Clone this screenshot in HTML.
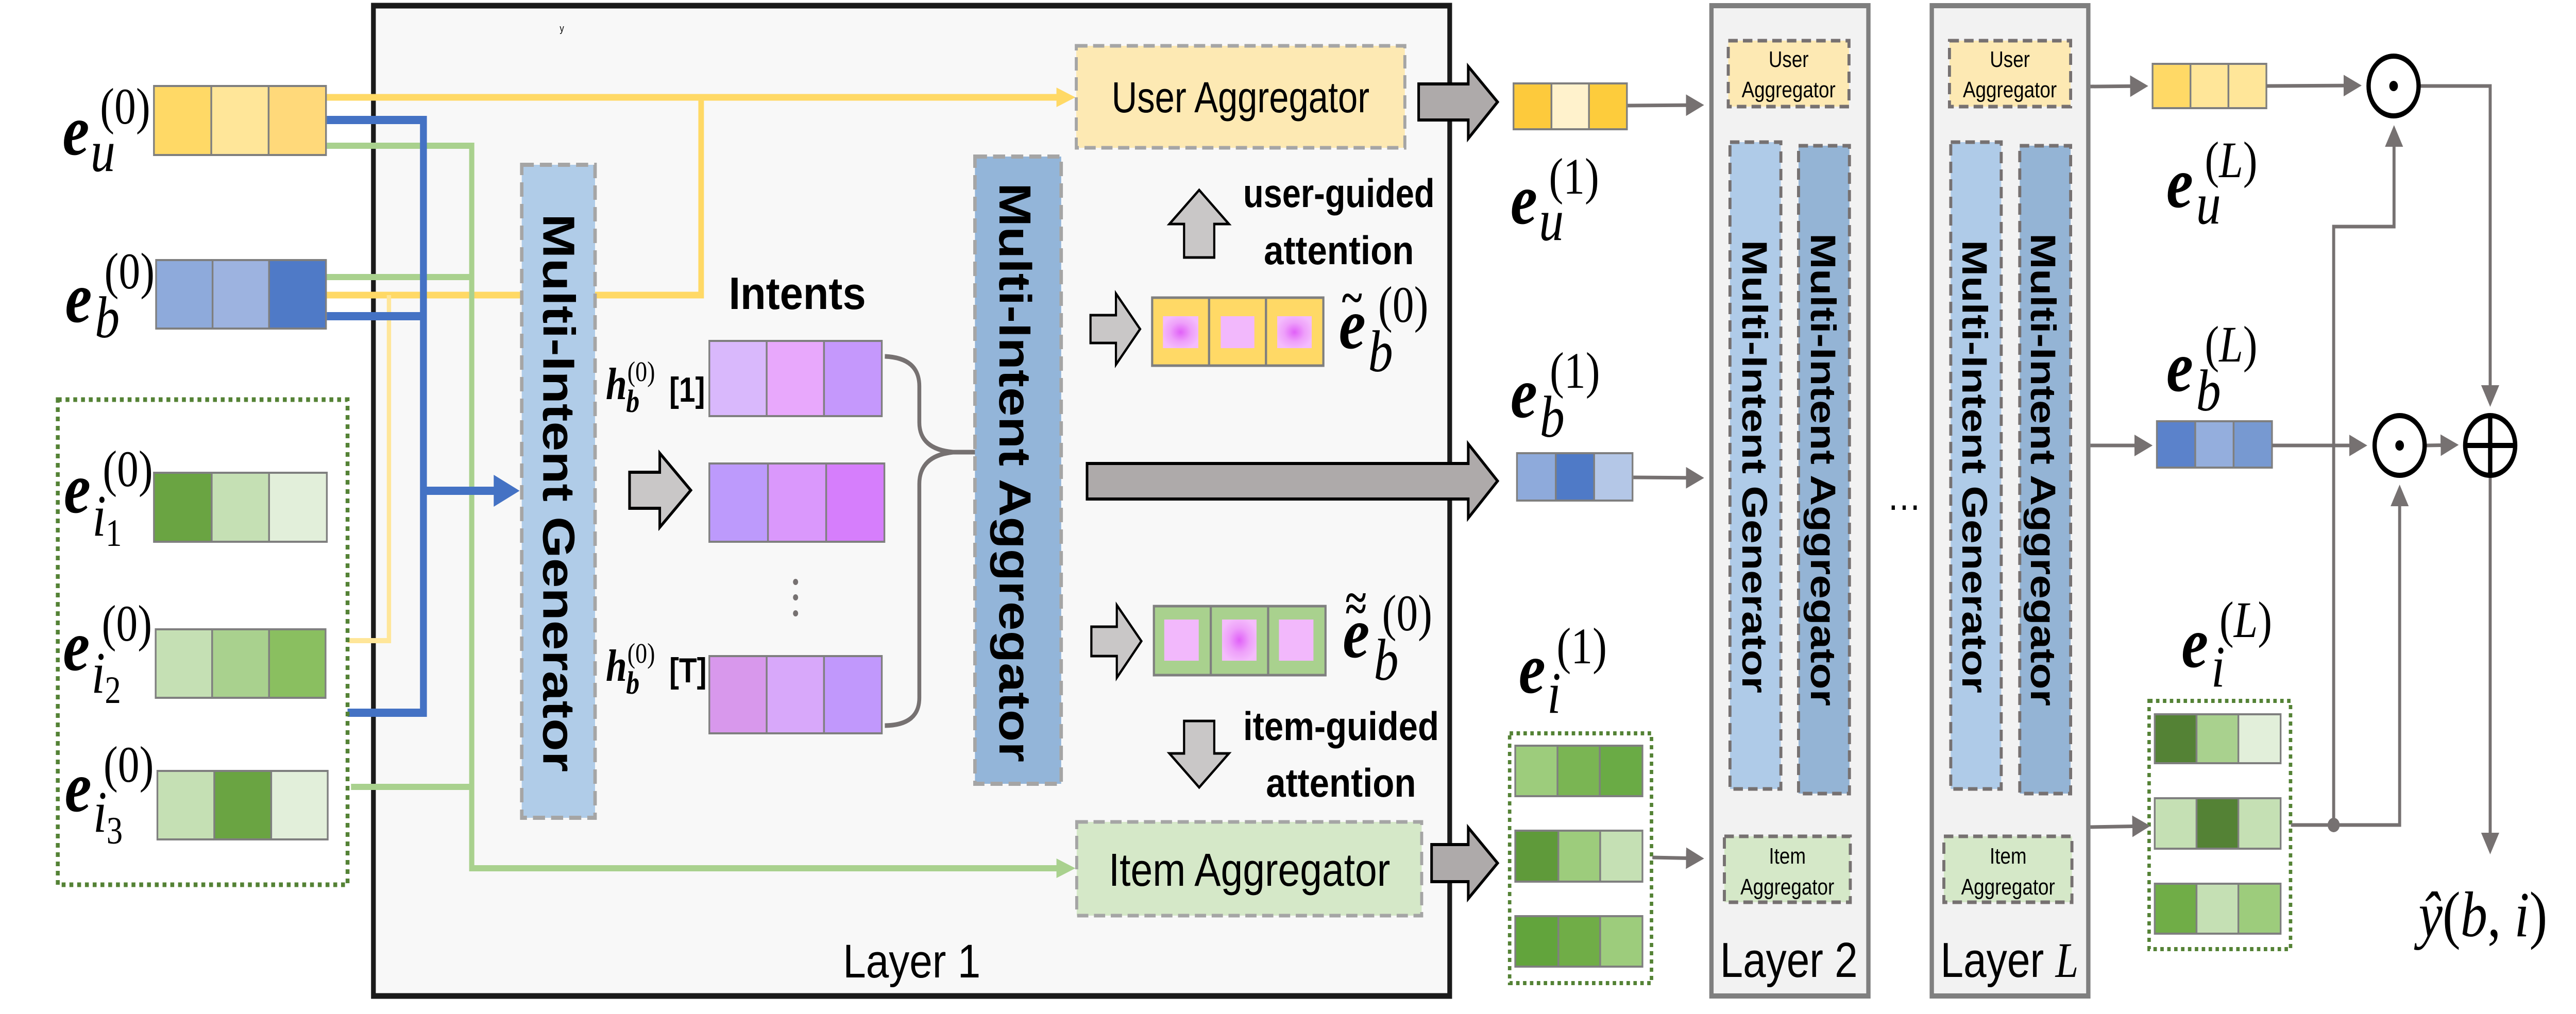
<!DOCTYPE html>
<html><head><meta charset="utf-8"><style>html,body{margin:0;padding:0;background:#fff;overflow:hidden;width:5974px;height:1969px}svg{display:block;position:fixed;left:0;top:0;width:100vw;height:100vh}</style></head><body>
<svg xmlns="http://www.w3.org/2000/svg" viewBox="0 0 5974 1969" preserveAspectRatio="none">
<defs>
<radialGradient id="mg" cx="50%" cy="50%" r="55%"><stop offset="0" stop-color="#e060f8"/><stop offset="0.55" stop-color="#eea0fa"/><stop offset="1" stop-color="#f4bcfc"/></radialGradient>
<marker id="ag" markerWidth="6" markerHeight="6" refX="5" refY="3" orient="auto" markerUnits="strokeWidth"><path d="M0,0 L6,3 L0,6 z" fill="#767171"/></marker>
</defs>
<rect width="5974" height="1969" fill="#fff"/>
<!-- Layer 1 -->
<rect x="866" y="11" width="2496" height="1923" fill="#f8f8f8" stroke="#1a1a1a" stroke-width="11"/>
<text x="1298" y="62" font-family="Liberation Sans" font-size="20">y</text>
<!-- Layer 2 and L -->
<rect x="3969" y="11" width="364" height="1923" fill="#f2f2f2" stroke="#7f7f7f" stroke-width="10"/>
<rect x="4480" y="11" width="363" height="1923" fill="#f2f2f2" stroke="#7f7f7f" stroke-width="10"/>

<!-- input lines -->
<g fill="none" stroke-linejoin="miter">
<path d="M758,189 L2470,189" stroke="#ffd966" stroke-width="13"/>
<path d="M758,573 L1626,573 L1626,189" stroke="#ffd966" stroke-width="13"/>
<path d="M806,1244 L902,1244 L902,573" stroke="#ffe699" stroke-width="10"/>
<path d="M758,283 L1094,283 L1094,1686 L2470,1686" stroke="#a9d18e" stroke-width="12"/>
<path d="M758,538 L1094,538" stroke="#a9d18e" stroke-width="12"/>
<path d="M814,1528 L1094,1528" stroke="#a9d18e" stroke-width="12"/>
<path d="M758,233 L982,233 L982,1384 L806,1384" stroke="#4472c4" stroke-width="16"/>
<path d="M758,614 L982,614" stroke="#4472c4" stroke-width="16"/>
<path d="M982,953 L1150,953" stroke="#4472c4" stroke-width="16"/>
</g>
<path d="M1145,922 L1205,953 L1145,984 z" fill="#4472c4"/>
<path d="M2450,170 L2494,189 L2450,208 z" fill="#ffd966"/>
<path d="M2450,1667 L2494,1686 L2450,1705 z" fill="#a9d18e"/>

<!-- input vectors -->
<g stroke="#7f7f7f" stroke-width="4">
<rect x="357" y="167" width="133" height="134" fill="#ffd966"/><rect x="490" y="167" width="133" height="134" fill="#ffe699"/><rect x="623" y="167" width="133" height="134" fill="#ffd97a"/>
<rect x="362" y="505" width="131" height="133" fill="#8eaadb"/><rect x="493" y="505" width="131" height="133" fill="#9db3e0"/><rect x="624" y="505" width="132" height="133" fill="#4f7ac7"/>
<rect x="357" y="918" width="134" height="134" fill="#6aa442"/><rect x="491" y="918" width="133" height="134" fill="#c5e0b4"/><rect x="624" y="918" width="134" height="134" fill="#e2efda"/>
<rect x="361" y="1222" width="131" height="133" fill="#c5e0b4"/><rect x="492" y="1222" width="132" height="133" fill="#a9d18e"/><rect x="624" y="1222" width="131" height="133" fill="#8abf60"/>
<rect x="365" y="1497" width="132" height="133" fill="#c5e0b4"/><rect x="497" y="1497" width="132" height="133" fill="#6aa442"/><rect x="629" y="1497" width="131" height="133" fill="#e2efda"/>
</g>
<rect x="134" y="776" width="672" height="942" fill="none" stroke="#548235" stroke-width="9" stroke-dasharray="9,9"/>

<!-- math labels inputs -->
<g font-family="Liberation Serif, serif">
<text x="145" y="300" font-size="140" font-weight="bold" font-style="italic">e</text><text x="210" y="332" font-size="115" font-style="italic">u</text><text x="232" y="240" font-size="100">(0)</text>
<text x="151" y="625" font-size="140" font-weight="bold" font-style="italic">e</text><text x="220" y="655" font-size="115" font-style="italic">b</text><text x="242" y="560" font-size="100">(0)</text>
<text x="148" y="995" font-size="140" font-weight="bold" font-style="italic">e</text><text x="214" y="1040" font-size="115" font-style="italic">i</text><text x="245" y="1060" font-size="75">1</text><text x="238" y="944" font-size="100">(0)</text>
<text x="146" y="1301" font-size="140" font-weight="bold" font-style="italic">e</text><text x="212" y="1345" font-size="115" font-style="italic">i</text><text x="243" y="1365" font-size="75">2</text><text x="236" y="1244" font-size="100">(0)</text>
<text x="150" y="1575" font-size="140" font-weight="bold" font-style="italic">e</text><text x="216" y="1615" font-size="115" font-style="italic">i</text><text x="247" y="1638" font-size="75">3</text><text x="240" y="1518" font-size="100">(0)</text>
</g>

<!-- MIG -->
<rect x="1210" y="320" width="170" height="1268" fill="#b0cce8" stroke="#a5a5a5" stroke-width="8" stroke-dasharray="28,14"/>
<text transform="translate(1260,415) rotate(90)" font-family="Liberation Sans, sans-serif" font-weight="bold" font-size="104" textLength="1084" lengthAdjust="spacingAndGlyphs">Multi-Intent Generator</text>

<!-- arrow -->
<path d="M1460,917 L1530,917 L1530,880 L1602,952 L1530,1024 L1530,987 L1460,987 z" fill="#c9c7c7" stroke="#000" stroke-width="6"/>

<text x="1690" y="600" font-family="Liberation Sans, sans-serif" font-weight="bold" font-size="88" textLength="318" lengthAdjust="spacingAndGlyphs">Intents</text>
<g font-family="Liberation Serif, serif">
<text x="1405" y="775" font-size="88" font-weight="bold" font-style="italic">h</text><text x="1452" y="800" font-size="62" font-style="italic" font-weight="bold">b</text><text x="1455" y="740" font-size="55">(0)</text>
<text x="1405" y="1322" font-size="88" font-weight="bold" font-style="italic">h</text><text x="1452" y="1347" font-size="62" font-style="italic" font-weight="bold">b</text><text x="1455" y="1287" font-size="55">(0)</text>
</g>
<text x="1552" y="780" font-family="Liberation Sans, sans-serif" font-weight="bold" font-size="68">[1]</text>
<text x="1552" y="1325" font-family="Liberation Sans, sans-serif" font-weight="bold" font-size="68">[T]</text>

<g stroke="#7f7f7f" stroke-width="4">
<rect x="1645" y="662" width="133" height="146" fill="#d9b8fc"/><rect x="1778" y="662" width="133" height="146" fill="#e8a8fc"/><rect x="1911" y="662" width="134" height="146" fill="#c598fc"/>
<rect x="1645" y="900" width="136" height="152" fill="#bd9afc"/><rect x="1781" y="900" width="135" height="152" fill="#da98fc"/><rect x="1916" y="900" width="135" height="152" fill="#d67efc"/>
<rect x="1645" y="1274" width="133" height="150" fill="#d898ec"/><rect x="1778" y="1274" width="133" height="150" fill="#d8a8fa"/><rect x="1911" y="1274" width="134" height="150" fill="#c198fc"/>
</g>
<g fill="#767171"><circle cx="1845" cy="1130" r="6"/><circle cx="1845" cy="1160" r="6"/><circle cx="1845" cy="1191" r="6"/></g>
<path d="M2052,692 Q2132,695 2132,750 L2132,820 Q2132,872 2210,878 L2262,878 M2210,878 Q2132,885 2132,940 L2132,1355 Q2132,1408 2052,1409" fill="none" stroke="#767171" stroke-width="9"/>

<!-- MIA -->
<rect x="2261" y="304" width="200" height="1218" fill="#93b5d9" stroke="#a5a5a5" stroke-width="8" stroke-dasharray="28,14"/>
<text transform="translate(2318,355) rotate(90)" font-family="Liberation Sans, sans-serif" font-weight="bold" font-size="104" textLength="1125" lengthAdjust="spacingAndGlyphs">Multi-Intent Aggregator</text>

<!-- User / item aggregator -->
<rect x="2496" y="89" width="762" height="198" fill="#fde9b3" stroke="#a5a5a5" stroke-width="7" stroke-dasharray="26,13"/>
<text x="2578" y="218" font-family="Liberation Sans, sans-serif" font-size="84" textLength="598" lengthAdjust="spacingAndGlyphs">User Aggregator</text>
<rect x="2497" y="1596" width="800" height="182" fill="#d5e8c8" stroke="#a5a5a5" stroke-width="7" stroke-dasharray="26,13"/>
<text x="2571" y="1720" font-family="Liberation Sans, sans-serif" font-size="90" textLength="653" lengthAdjust="spacingAndGlyphs">Item Aggregator</text>

<!-- attention arrows & text -->
<path d="M2746,500 L2746,435 L2712,435 L2781,369 L2850,435 L2816,435 L2816,500 z" fill="#c9c7c7" stroke="#000" stroke-width="5"/>
<path d="M2746,1400 L2746,1463 L2712,1463 L2781,1529 L2850,1463 L2816,1463 L2816,1400 z" fill="#c9c7c7" stroke="#000" stroke-width="5"/>
<g font-family="Liberation Sans, sans-serif" font-weight="bold" font-size="78">
<text x="2883" y="402" textLength="444" lengthAdjust="spacingAndGlyphs">user-guided</text>
<text x="2931" y="513" textLength="348" lengthAdjust="spacingAndGlyphs">attention</text>
<text x="2883" y="1437" textLength="454" lengthAdjust="spacingAndGlyphs">item-guided</text>
<text x="2936" y="1547" textLength="348" lengthAdjust="spacingAndGlyphs">attention</text>
</g>

<!-- small right arrows -->
<path d="M2529,612 L2588,612 L2588,570 L2644,639 L2588,708 L2588,666 L2529,666 z" fill="#c9c7c7" stroke="#000" stroke-width="5"/>
<path d="M2531,1217 L2590,1217 L2590,1175 L2647,1245 L2590,1316 L2590,1274 L2531,1274 z" fill="#c9c7c7" stroke="#000" stroke-width="5"/>

<!-- e tilde vectors -->
<g stroke="#7f7f7f" stroke-width="5">
<rect x="2672" y="578" width="132" height="132" fill="#ffd966"/><rect x="2804" y="578" width="132" height="132" fill="#ffd966"/><rect x="2936" y="578" width="133" height="132" fill="#ffd966"/>
<rect x="2676" y="1177" width="132" height="134" fill="#a9d18e"/><rect x="2808" y="1177" width="133" height="134" fill="#a9d18e"/><rect x="2941" y="1177" width="133" height="134" fill="#a9d18e"/>
</g>
<rect x="2697" y="614" width="82" height="62" fill="url(#mg)"/>
<rect x="2831" y="614" width="78" height="62" fill="#f2b8fc"/>
<rect x="2962" y="614" width="80" height="62" fill="url(#mg)"/>
<rect x="2700" y="1203" width="80" height="80" fill="#f2b8fc"/>
<rect x="2834" y="1203" width="80" height="80" fill="url(#mg)"/>
<rect x="2966" y="1203" width="80" height="80" fill="#f2b8fc"/>
<g font-family="Liberation Serif, serif">
<text x="3105" y="676" font-size="140" font-weight="bold" font-style="italic">e</text><text x="3112" y="608" font-size="90" font-weight="bold">~</text><text x="3173" y="721" font-size="115" font-style="italic">b</text><text x="3196" y="625" font-size="100">(0)</text>
<text x="3114" y="1276" font-size="140" font-weight="bold" font-style="italic">e</text><text x="3121" y="1212" font-size="90" font-weight="bold">~</text><text x="3121" y="1190" font-size="90" font-weight="bold">~</text><text x="3186" y="1320" font-size="115" font-style="italic">b</text><text x="3205" y="1224" font-size="100">(0)</text>
</g>

<!-- big arrow -->
<path d="M2521,900 L3405,900 L3405,862 L3473,934 L3405,1006 L3405,969 L2521,969 z" fill="#aeaaaa" stroke="#000" stroke-width="6"/>
<path d="M3290,163 L3405,163 L3405,129 L3473,198 L3405,269 L3405,233 L3290,233 z" fill="#aeaaaa" stroke="#000" stroke-width="6"/>
<path d="M3320,1640 L3405,1640 L3405,1607 L3473,1676 L3405,1745 L3405,1712 L3320,1712 z" fill="#aeaaaa" stroke="#000" stroke-width="6"/>
<text x="1955" y="1898" font-family="Liberation Sans, sans-serif" font-size="92" textLength="319" lengthAdjust="spacingAndGlyphs">Layer 1</text>

<!-- layer 1 outputs -->
<g stroke="#7f7f7f" stroke-width="4">
<rect x="3510" y="162" width="88" height="89" fill="#fdca3c"/><rect x="3598" y="162" width="87" height="89" fill="#fff2cc"/><rect x="3685" y="162" width="88" height="89" fill="#fdcc3c"/>
<rect x="3518" y="880" width="90" height="92" fill="#8eaadb"/><rect x="3608" y="880" width="89" height="92" fill="#4f7ac7"/><rect x="3697" y="880" width="89" height="92" fill="#b4c7e7"/>
<rect x="3514" y="1448" width="98" height="98" fill="#9dcc7c"/><rect x="3612" y="1448" width="98" height="98" fill="#7ab553"/><rect x="3710" y="1448" width="99" height="98" fill="#6aab45"/>
<rect x="3514" y="1613" width="100" height="99" fill="#5f9a3a"/><rect x="3614" y="1613" width="97" height="99" fill="#9dcc7c"/><rect x="3711" y="1613" width="98" height="99" fill="#c5e0b4"/>
<rect x="3514" y="1779" width="100" height="98" fill="#62a43c"/><rect x="3614" y="1779" width="97" height="98" fill="#70ad47"/><rect x="3711" y="1779" width="98" height="98" fill="#9dcc7c"/>
</g>
<rect x="3501" y="1424" width="329" height="485" fill="none" stroke="#548235" stroke-width="8" stroke-dasharray="8,8"/>
<g stroke="#767171" stroke-width="7" fill="none" marker-end="url(#ag)">
<path d="M3775,205 L3945,204"/>
<path d="M3788,927 L3945,928"/>
<path d="M3832,1665 L3945,1667"/>
</g>
<g font-family="Liberation Serif, serif">
<text x="3503" y="434" font-size="140" font-weight="bold" font-style="italic">e</text><text x="3569" y="466" font-size="115" font-style="italic">u</text><text x="3592" y="376" font-size="100">(1)</text>
<text x="3503" y="810" font-size="140" font-weight="bold" font-style="italic">e</text><text x="3571" y="848" font-size="115" font-style="italic">b</text><text x="3594" y="753" font-size="100">(1)</text>
<text x="3522" y="1345" font-size="140" font-weight="bold" font-style="italic">e</text><text x="3588" y="1384" font-size="115" font-style="italic">i</text><text x="3610" y="1288" font-size="100">(1)</text>
</g>

<!-- Layer 2 / L contents -->
<g stroke="#767171" stroke-width="7" stroke-dasharray="22,12">
<rect x="4008" y="79" width="280" height="128" fill="#fde9b3"/>
<rect x="4012" y="276" width="118" height="1256" fill="#afcbe8"/>
<rect x="4171" y="283" width="118" height="1258" fill="#94b4d5"/>
<rect x="3999" y="1624" width="292" height="128" fill="#d5e8c8"/>
<rect x="4521" y="79" width="281" height="128" fill="#fde9b3"/>
<rect x="4524" y="276" width="117" height="1256" fill="#afcbe8"/>
<rect x="4684" y="283" width="118" height="1258" fill="#94b4d5"/>
<rect x="4508" y="1624" width="297" height="128" fill="#d5e8c8"/>
</g>
<g font-family="Liberation Sans, sans-serif" font-size="44" text-anchor="middle">
<text x="4148" y="130">User</text><text x="4148" y="189">Aggregator</text>
<text x="4145" y="1677">Item</text><text x="4145" y="1737">Aggregator</text>
<text x="4661" y="130">User</text><text x="4661" y="189">Aggregator</text>
<text x="4657" y="1677">Item</text><text x="4657" y="1737">Aggregator</text>
</g>
<g font-family="Liberation Sans, sans-serif" font-size="82" font-weight="bold">
<text transform="translate(4041,466) rotate(90)" textLength="880" lengthAdjust="spacingAndGlyphs">Multi-Intent Generator</text>
<text transform="translate(4200,453) rotate(90)" textLength="918" lengthAdjust="spacingAndGlyphs">Multi-Intent Aggregator</text>
<text transform="translate(4551,466) rotate(90)" textLength="880" lengthAdjust="spacingAndGlyphs">Multi-Intent Generator</text>
<text transform="translate(4710,453) rotate(90)" textLength="918" lengthAdjust="spacingAndGlyphs">Multi-Intent Aggregator</text>
</g>
<text x="3989" y="1897" font-family="Liberation Sans, sans-serif" font-size="96" textLength="319" lengthAdjust="spacingAndGlyphs">Layer 2</text>
<text x="4500" y="1897" font-family="Liberation Sans, sans-serif" font-size="96">Layer <tspan font-family="Liberation Serif, serif" font-style="italic">L</tspan></text>
<text x="4376" y="990" font-family="Liberation Sans, sans-serif" font-size="80">…</text>

<!-- final vectors -->
<g stroke="#7f7f7f" stroke-width="4">
<rect x="4992" y="124" width="88" height="86" fill="#ffd966"/><rect x="5080" y="124" width="88" height="86" fill="#ffe699"/><rect x="5168" y="124" width="88" height="86" fill="#ffe699"/>
<rect x="5002" y="818" width="89" height="90" fill="#5b82cb"/><rect x="5091" y="818" width="89" height="90" fill="#94aedd"/><rect x="5180" y="818" width="89" height="90" fill="#7799d1"/>
<rect x="4997" y="1387" width="97" height="95" fill="#548235"/><rect x="5094" y="1387" width="97" height="95" fill="#a9d18e"/><rect x="5191" y="1387" width="98" height="95" fill="#e2efda"/>
<rect x="4997" y="1550" width="97" height="98" fill="#c5e0b4"/><rect x="5094" y="1550" width="97" height="98" fill="#548235"/><rect x="5191" y="1550" width="98" height="98" fill="#c5e0b4"/>
<rect x="4997" y="1716" width="97" height="97" fill="#70ad47"/><rect x="5094" y="1716" width="97" height="97" fill="#c5e0b4"/><rect x="5191" y="1716" width="98" height="97" fill="#9dcc7c"/>
</g>
<rect x="4984" y="1361" width="328" height="482" fill="none" stroke="#548235" stroke-width="8" stroke-dasharray="8,8"/>
<g font-family="Liberation Serif, serif">
<text x="5024" y="402" font-size="140" font-weight="bold" font-style="italic">e</text><text x="5093" y="434" font-size="115" font-style="italic">u</text><text x="5113" y="344" font-size="100">(<tspan font-style="italic">L</tspan>)</text>
<text x="5024" y="759" font-size="140" font-weight="bold" font-style="italic">e</text><text x="5093" y="797" font-size="115" font-style="italic">b</text><text x="5113" y="702" font-size="100">(<tspan font-style="italic">L</tspan>)</text>
<text x="5059" y="1295" font-size="140" font-weight="bold" font-style="italic">e</text><text x="5128" y="1333" font-size="115" font-style="italic">i</text><text x="5147" y="1237" font-size="100">(<tspan font-style="italic">L</tspan>)</text>
<text x="5609" y="1818" font-size="125" font-style="italic">ŷ<tspan font-style="normal">(</tspan>b<tspan font-style="normal">, </tspan>i<tspan font-style="normal">)</tspan></text>
</g>

<!-- final connectors -->
<g stroke="#767171" stroke-width="7" fill="none">
<path d="M4848,168 L4975,167" marker-end="url(#ag)"/>
<path d="M4848,865 L4985,865" marker-end="url(#ag)"/>
<path d="M4848,1606 L4980,1604" marker-end="url(#ag)"/>
<path d="M5256,167 L5470,166" marker-end="url(#ag)"/>
<path d="M5269,865 L5483,865" marker-end="url(#ag)"/>
<path d="M5313,1602 L5565,1602 L5565,948" marker-end="url(#ag)"/>
<path d="M5412,1602 L5412,440 L5552,440 L5552,250" marker-end="url(#ag)"/>
<path d="M5612,167 L5775,167 L5775,783" marker-end="url(#ag)"/>
<path d="M5627,865 L5695,864" marker-end="url(#ag)"/>
<path d="M5775,926 L5775,1652" marker-end="url(#ag)"/>
</g>
<circle cx="5412" cy="1602" r="14" fill="#767171"/>
<g stroke="#000" stroke-width="10" fill="#fff">
<circle cx="5551" cy="167" r="58"/>
<circle cx="5565" cy="865" r="58"/>
<circle cx="5775" cy="865" r="58"/>
</g>
<circle cx="5551" cy="167" r="10" fill="#000"/>
<circle cx="5565" cy="865" r="10" fill="#000"/>
<path d="M5775,807 L5775,923 M5717,865 L5833,865" stroke="#000" stroke-width="10"/>
</svg>
</body></html>
